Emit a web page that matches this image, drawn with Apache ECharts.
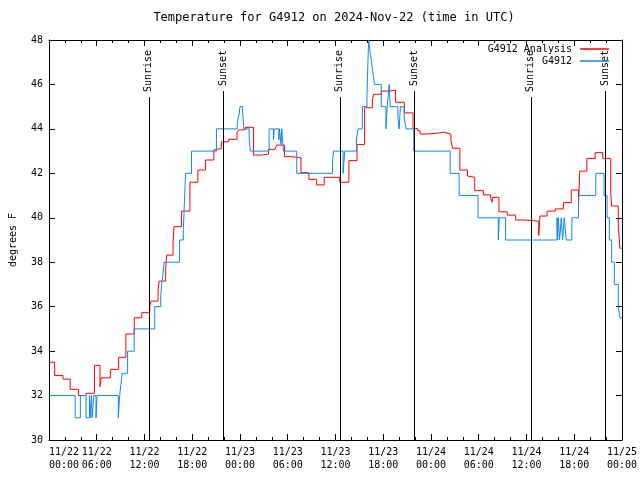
<!DOCTYPE html>
<html>
<head>
<meta charset="utf-8">
<script src="https://cdn.jsdelivr.net/npm/echarts@6/dist/echarts.min.js"></script>
<style>html,body{margin:0;padding:0;background:#fff;}#c{width:640px;height:480px;}</style>
</head>
<body>
<div id="c"></div>
<script>
// Hours since 2024-11-22 00:00 UTC, and temperatures (degrees F)
var redTimes = [0, 0.71, 1.75, 2.66, 3.71, 4.66, 5.71, 6.41, 6.56, 7.71, 8.75, 9.66, 10.71, 11.66, 12.66, 12.84, 13.71, 13.84, 14.66, 14.79, 15.59, 15.71, 16.66, 17.71, 18.71, 19.66, 20.71, 20.91, 21.66, 22.59, 23.63, 23.84, 24.66, 25.71, 26.66, 27.59, 28.41, 28.63, 29.59, 30.59, 31.66, 32.66, 33.63, 34.59, 36.54, 37.69, 38.71, 39.66, 40.63, 40.79, 41.75, 42.79, 43.54, 44.66, 45.75, 46.34, 46.63, 47.59, 48.63, 49.59, 50.5, 50.71, 51.63, 52.59, 52.79, 53.5, 54.59, 55.5, 55.66, 55.75, 56.54, 57.59, 58.63, 59.66, 61.54, 61.71, 62.59, 63.63, 64.66, 65.63, 66.54, 66.69, 67.59, 68.63, 69.59, 70.59, 70.69, 71.54, 71.75, 72];
var redValues = [33.5, 32.9, 32.74, 32.28, 32.0, 32.1, 33.36, 32.4, 32.8, 33.18, 33.72, 34.77, 35.5, 35.73, 36.0, 36.25, 36.7, 37.15, 37.73, 38.32, 38.9, 39.6, 40.3, 41.6, 42.15, 42.6, 43.05, 43.12, 43.42, 43.53, 43.83, 43.96, 44.07, 42.82, 42.87, 43.08, 43.17, 43.27, 42.75, 42.7, 42.03, 41.73, 41.48, 41.82, 41.6, 42.57, 43.3, 44.95, 45.3, 45.56, 45.7, 45.75, 45.2, 44.72, 44.02, 43.92, 43.77, 43.8, 43.85, 43.77, 43.5, 43.13, 42.15, 41.88, 41.82, 41.22, 41.03, 40.88, 40.7, 40.92, 40.27, 40.12, 39.9, 39.85, 39.2, 40.08, 40.3, 40.4, 40.68, 41.25, 40.5, 42.1, 42.67, 42.93, 42.67, 41.13, 40.53, 39.6, 38.63, 38.63];

var blueTimes = [0, 3.29, 3.94, 4.66, 5.09, 5.16, 5.34, 5.41, 5.63, 5.91, 6.04, 8.71, 8.88, 9.04, 9.19, 9.88, 10.71, 13.29, 14.04, 14.16, 14.34, 14.46, 16.41, 16.88, 17.0, 17.16, 17.91, 21.04, 23.66, 23.91, 24.0, 24.34, 24.5, 25.16, 25.31, 27.66, 28.21, 28.31, 28.88, 28.96, 29.16, 29.25, 29.46, 31.13, 35.63, 35.75, 36.96, 37.16, 38.63, 38.84, 39.38, 39.96, 40.16, 40.41, 40.54, 40.71, 40.91, 41.75, 42.34, 42.5, 42.75, 42.88, 43.84, 44.0, 44.16, 44.63, 44.88, 45.84, 50.41, 51.54, 53.91, 56.46, 56.59, 57.38, 63.84, 63.91, 64.0, 64.16, 64.38, 64.54, 64.75, 65.0, 65.71, 66.54, 68.71, 69.75, 70.13, 70.41, 70.71, 71.04, 71.54, 71.75, 72];
var blueValues = [32, 31, 32, 31, 32, 31, 32, 31, 32, 31, 32, 31, 32, 32.5, 33, 34, 35, 36, 36.5, 37, 37.5, 38, 39, 39.5, 40.5, 42, 43, 44, 44.3, 44.7, 45, 44.7, 44, 43.5, 43, 44, 43.5, 44, 43.5, 44, 43.3, 44, 43, 42, 42.5, 43, 42, 43, 43.5, 44, 45, 45.5, 48, 47.3, 47, 46.5, 46, 45, 44, 45, 46, 45, 44.5, 44, 45, 44.5, 44, 43, 42, 41, 40, 39, 40, 39, 40, 39, 40, 39, 40, 39, 40, 39, 40, 41, 42, 41, 40, 39, 38, 37, 36, 35.5, 35.5];

var sunTimes = [12.55, 21.92, 36.55, 45.92, 60.55, 69.93];
var sunLabels = ['Sunrise', 'Sunset', 'Sunrise', 'Sunset', 'Sunrise', 'Sunset'];

var xTickLabels = ['11/22\n00:00', '11/22\n06:00', '11/22\n12:00', '11/22\n18:00',
  '11/23\n00:00', '11/23\n06:00', '11/23\n12:00', '11/23\n18:00',
  '11/24\n00:00', '11/24\n06:00', '11/24\n12:00', '11/24\n18:00', '11/25\n00:00'];

var seriesNames = ['G4912 Analysis', 'G4912'];
var titleText = 'Temperature for G4912 on 2024-Nov-22 (time in UTC)';

function pairs(ts, vs) { return ts.map(function (t, i) { return [t, vs[i]]; }); }

var FONT = '"DejaVu Sans Mono", "Liberation Mono", monospace';
var black = '#000';

var markData = sunTimes.map(function (t, i) {
  return [{ coord: [t, 30], name: sunLabels[i] }, { coord: [t, 47.6] }];
});

function xAxisDef(pos, showLabels) {
  return {
    type: 'value', min: 0, max: 72, interval: 6, position: pos,
    axisLine: { show: true, onZero: false, lineStyle: { color: black, width: 1 } },
    axisTick: { show: true, inside: true, length: 6, lineStyle: { color: black } },
    minorTick: { show: true, splitNumber: 3, length: 3, lineStyle: { color: black } },
    splitLine: { show: false },
    axisLabel: {
      show: showLabels, color: black, fontFamily: FONT, fontSize: 10, lineHeight: 13, margin: 6,
      alignMinLabel: 'left',
      formatter: function (v) { return xTickLabels[Math.round(v / 6)]; }
    }
  };
}
function yAxisDef(pos, showLabels) {
  return {
    type: 'value', min: 30, max: 48, interval: 2, position: pos,
    name: showLabels ? 'degrees F' : '', nameLocation: 'middle', nameGap: 31,
    nameTextStyle: { color: black, fontFamily: FONT, fontSize: 10 },
    axisLine: { show: true, onZero: false, lineStyle: { color: black, width: 1 } },
    axisTick: { show: true, inside: true, length: 6, lineStyle: { color: black } },
    splitLine: { show: false },
    axisLabel: { show: showLabels, color: black, fontFamily: FONT, fontSize: 10, margin: 6 }
  };
}

var chart = echarts.init(document.getElementById('c'), null, { renderer: 'canvas' });
chart.setOption({
  animation: false,
  backgroundColor: '#fff',
  title: {
    text: titleText, left: 334, top: 12, textAlign: 'center', padding: 0,
    textStyle: { color: black, fontFamily: FONT, fontSize: 12, fontWeight: 'normal' }
  },
  grid: { left: 46, right: 18, top: 40, bottom: 40, containLabel: false },
  legend: [
    {
      data: [seriesNames[0]], right: 31, top: 44, orient: 'vertical', align: 'right', z: 50,
      icon: 'rect', itemWidth: 29, itemHeight: 1.5, itemGap: 0, padding: 0,
      textStyle: { color: black, fontFamily: FONT, fontSize: 10, padding: [0, 3, 0, 0] }
    },
    {
      data: [seriesNames[1]], right: 31, top: 56, orient: 'vertical', align: 'right', z: 50,
      icon: 'rect', itemWidth: 29, itemHeight: 1.5, itemGap: 0, padding: 0,
      textStyle: { color: black, fontFamily: FONT, fontSize: 10, padding: [0, 3, 0, 0] }
    }
  ],
  xAxis: [xAxisDef('bottom', true), xAxisDef('top', false)],
  yAxis: [yAxisDef('left', true), yAxisDef('right', false)],
  series: [
    {
      name: seriesNames[0], type: 'line', step: 'end', xAxisIndex: 0, yAxisIndex: 0,
      data: pairs(redTimes, redValues), showSymbol: false, symbol: 'none',
      lineStyle: { color: '#ff0000', width: 1 }, itemStyle: { color: '#ff0000' },
      markLine: {
        silent: true, symbol: ['none', 'none'], animation: false,
        lineStyle: { color: black, width: 1, type: 'solid' },
        label: {
          show: true, position: 'insideEnd', distance: 0, formatter: '{b}',
          color: black, fontFamily: FONT, fontSize: 10,
          backgroundColor: '#fff', padding: [0, 1, 0, 5]
        },
        emphasis: { disabled: true },
        data: markData
      },
      z: 2
    },
    {
      name: seriesNames[1], type: 'line', step: 'end', xAxisIndex: 0, yAxisIndex: 0,
      data: pairs(blueTimes, blueValues), showSymbol: false, symbol: 'none',
      lineStyle: { color: '#0f86f0', width: 1 }, itemStyle: { color: '#0f86f0' },
      z: 3
    }
  ]
});
</script>
</body>
</html>
